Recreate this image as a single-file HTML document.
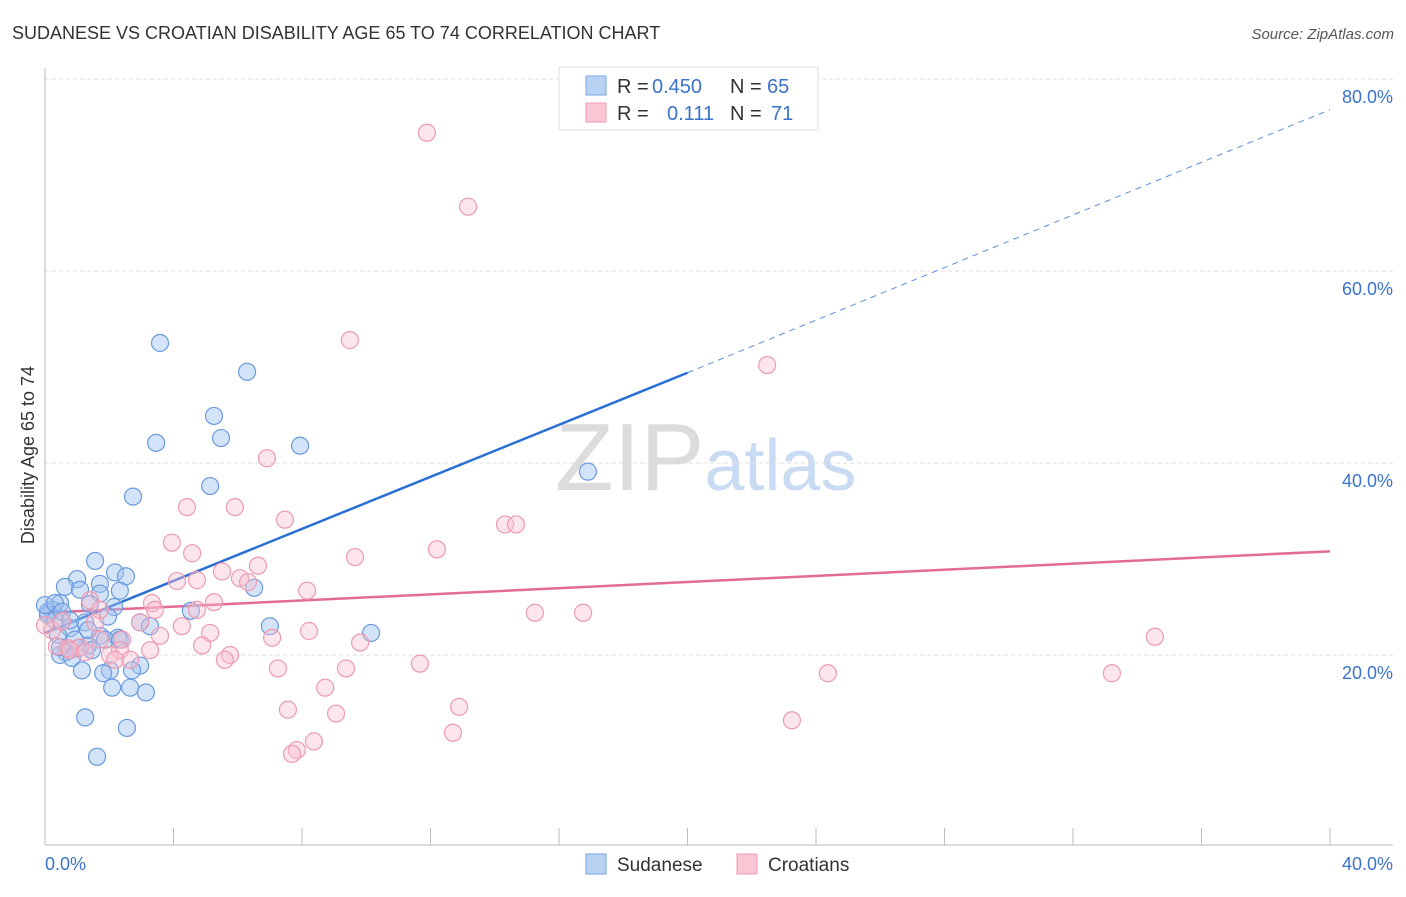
<!DOCTYPE html>
<html><head><meta charset="utf-8"><style>
body{margin:0;background:#fff;font-family:"Liberation Sans",sans-serif}
svg text{font-family:"Liberation Sans",sans-serif}
</style></head><body>
<svg id="chart" width="1406" height="892" viewBox="0 0 1406 892" xmlns="http://www.w3.org/2000/svg">
<text x="12" y="39" font-size="18" fill="#333">SUDANESE VS CROATIAN DISABILITY AGE 65 TO 74 CORRELATION CHART</text>
<text x="1394" y="39" font-size="15" fill="#555" font-style="italic" text-anchor="end">Source: ZipAtlas.com</text>
<text x="555" y="490" font-size="96" fill="#dcdcdc" font-family="Liberation Serif,serif">ZIP<tspan fill="#c9dbf2" font-family="Liberation Sans,sans-serif" font-size="72">atlas</tspan></text>
<g id="grid"></g>
<g id="axes"></g>
<text transform="translate(34,455) rotate(-90)" font-size="18" fill="#333" text-anchor="middle">Disability Age 65 to 74</text>
<g id="trend"></g>
<g id="pts"></g>
<g>
<rect x="559" y="67" width="259" height="63" fill="#fff" stroke="#ddd"/>
<rect x="586" y="76" width="20" height="19" fill="#b8d2f4" stroke="#7aa6e3"/>
<rect x="586" y="103" width="20" height="19" fill="#f9c6d4" stroke="#ee9ab3"/>
<text x="617" y="93" font-size="20" fill="#333">R =<tspan x="652" fill="#3a73c9">0.450</tspan><tspan x="730">N =</tspan><tspan x="767" fill="#3a73c9">65</tspan></text>
<text x="617" y="120" font-size="20" fill="#333">R =<tspan fill="#3a73c9" x="667">0.111</tspan><tspan x="730">N =</tspan><tspan x="771" fill="#3a73c9">71</tspan></text>
</g>
<g>
<rect x="586" y="854" width="20" height="20" fill="#b8d2f4" stroke="#7aa6e3"/>
<text x="617" y="871" font-size="19" fill="#333">Sudanese</text>
<rect x="737" y="854" width="20" height="20" fill="#f9c6d4" stroke="#ee9ab3"/>
<text x="768" y="871" font-size="19" fill="#333">Croatians</text>
</g>
</svg>
<script>
const yTicks=[20,40,60,80];
const xTickCount=10;
const sudX=[3.58,6.29,5.26,5.48,3.46,7.94,5.14,2.74,16.9,1.56,2.18,2.52,1.0,1.71,0.62,1.09,2.33,1.71,1.40,0.47,0.22,0.09,2.15,6.51,4.54,1.96,2.96,3.27,1.25,7.0,10.15,0.78,0.40,1.71,2.27,1.87,1.34,1.03,0.65,0.47,0.84,1.46,2.96,2.02,1.15,2.71,1.81,2.09,2.65,3.14,1.25,2.55,1.62,0.09,0.31,0.0,0.47,1.34,0.93,0.31,0.53,2.33,0.78];
const sudY=[52.5,49.5,44.9,42.6,42.1,41.8,37.6,36.5,39.1,29.8,28.6,28.2,27.9,27.4,27.1,26.8,26.7,26.4,25.3,25.4,24.7,24.5,25.0,27.0,24.6,24.0,23.4,23.0,23.4,23.0,22.3,22.8,22.1,22.0,21.8,21.6,21.0,20.7,20.3,20.0,19.7,20.5,18.9,18.4,18.4,18.4,18.1,16.6,16.6,16.1,13.5,12.4,9.4,24.2,23.6,25.2,20.8,22.6,21.6,25.4,24.5,21.6,23.6];
const croX=[11.89,13.17,9.49,22.48,6.91,4.42,5.91,7.47,14.32,14.66,12.2,3.95,4.58,9.65,5.51,6.63,4.11,6.07,6.32,8.16,5.26,3.33,3.42,4.73,15.25,16.75,8.22,4.26,2.96,1.56,7.07,5.14,3.58,2.40,4.89,2.33,2.02,5.76,5.6,9.81,34.55,11.67,9.37,7.25,24.37,33.21,8.72,7.56,12.89,9.06,23.25,12.7,8.37,7.84,7.69,0.37,0.72,1.09,1.71,0.22,0.53,1.40,1.71,2.65,0.78,1.25,2.18,3.27,0,4.73];
const croY=[74.4,66.7,52.8,50.2,40.5,35.4,35.4,34.1,33.6,33.6,31.0,31.7,30.6,30.2,28.7,29.3,27.7,28.0,27.6,26.7,25.5,25.4,24.7,24.7,24.4,24.4,22.5,23.0,23.4,23.4,21.8,22.3,22.0,21.6,21.0,20.5,20.0,20.0,19.5,21.3,21.9,19.1,18.6,18.6,18.1,18.1,16.6,14.3,14.6,13.9,13.2,11.9,11.0,10.1,9.7,20.9,20.7,20.8,21.6,22.6,23.5,25.7,24.7,19.5,20.5,20.3,19.5,20.5,23.1,27.8];
const sudTrend=[22.3,49.4,76.8]; // at x=0,20,40
const croTrend=[24.4,30.8]; // at x=0,40
const NS="http://www.w3.org/2000/svg";
const sx=v=>45+v*1285/40, sy=v=>847-v*9.6;
function mk(t,a,p){const e=document.createElementNS(NS,t);for(const k in a)e.setAttribute(k,a[k]);p.appendChild(e);return e;}
const grid=document.getElementById('grid'),axes=document.getElementById('axes'),trend=document.getElementById('trend'),pts=document.getElementById('pts');
yTicks.forEach(v=>{
 const l=mk('line',{x1:45,x2:1393,y1:sy(v),y2:sy(v),stroke:'#ddd','stroke-dasharray':'4,3'},grid);
 
 
 const t=mk('text',{x:1393,y:sy(v)+24,'font-size':18,fill:'#3a73c9','text-anchor':'end'},grid);
 t.textContent=v.toFixed(1)+'%';
 
 
});
const ax=mk('line',{x1:45,x2:1393,y1:845,y2:845,stroke:'#bbb'},axes);


const ay=mk('line',{x1:45,x2:45,y1:68,y2:845,stroke:'#bbb'},axes);


for(let i=0;i<=xTickCount;i++){
 const x=sx(i*40/xTickCount);
 const tk=mk('line',{x1:x,x2:x,y1:828,y2:845,stroke:'#bbb'},axes);
 
 
}
const xl0=mk('text',{x:45,y:870,'font-size':18,fill:'#3a73c9'},axes);xl0.textContent='0.0%';


const xl1=mk('text',{x:1393,y:870,'font-size':18,fill:'#3a73c9','text-anchor':'end'},axes);xl1.textContent='40.0%';


sudX.forEach((v,i)=>{
 const c=mk('circle',{cx:sx(v),cy:sy(sudY[i]),r:8.5,fill:'rgba(160,196,240,0.45)',stroke:'#6a9ade','stroke-width':1.2},pts);
 
 
});
croX.forEach((v,i)=>{
 const c=mk('circle',{cx:sx(v),cy:sy(croY[i]),r:8.5,fill:'rgba(248,190,206,0.4)',stroke:'#ec9ab3','stroke-width':1.2},pts);
 
 
});
const t1=mk('line',{x1:sx(0),y1:sy(sudTrend[0]),x2:sx(20),y2:sy(sudTrend[1]),stroke:'#2a6fd4','stroke-width':2.5},trend);


const t2=mk('line',{x1:sx(20),y1:sy(sudTrend[1]),x2:sx(40),y2:sy(sudTrend[2]),stroke:'#5a8fdc','stroke-width':1,'stroke-dasharray':'6,5'},trend);


const t3=mk('line',{x1:sx(0),y1:sy(croTrend[0]),x2:sx(40),y2:sy(croTrend[1]),stroke:'#e36c93','stroke-width':2.5},trend);


</script>
</body></html>
